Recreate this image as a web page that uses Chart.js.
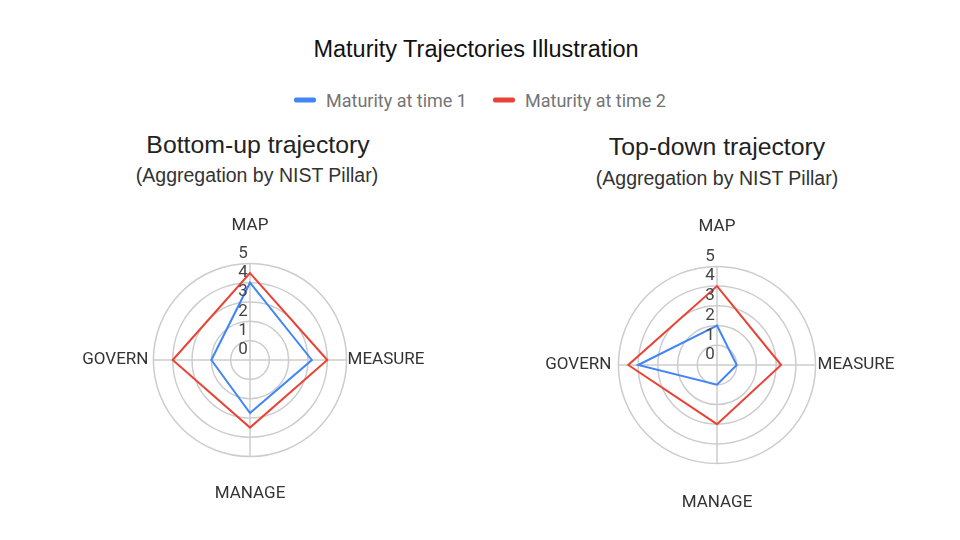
<!DOCTYPE html>
<html>
<head>
<meta charset="utf-8">
<title>Maturity Trajectories Illustration</title>
<script src="https://cdn.jsdelivr.net/npm/chart.js@4.4.1/dist/chart.umd.min.js"></script>
<style>
  html, body { margin: 0; padding: 0; background: #fff; }
  #page { position: relative; width: 960px; height: 540px; overflow: hidden; font-family: Roboto, sans-serif; }
  .txt { position: absolute; white-space: nowrap; line-height: 1; transform: translate(-50%, -50%); }
  .main-title { font-family: "Liberation Sans", Arial, sans-serif; font-size: 23.5px; color: #111; }
  .chart-title { font-family: "Liberation Sans", Arial, sans-serif; font-size: 24.8px; color: #222; }
  .chart-sub { font-family: "Liberation Sans", Arial, sans-serif; font-size: 19.5px; color: #333; }
  #legend { position: absolute; left: 480px; top: 100px; transform: translate(-50%, -50%); display: flex; align-items: center; gap: 26px; font-size: 18px; color: #757575; white-space: nowrap; }
  #legend .item { display: flex; align-items: center; gap: 10px; }
  #legend .swatch { width: 22px; height: 5px; border-radius: 2px; }
  .box { position: absolute; }
</style>
</head>
<body>
<div id="page">
  <div class="txt main-title" style="left:476px; top:50px;">Maturity Trajectories Illustration</div>
  <div id="legend"></div>

  <div class="txt chart-title" style="left:258px; top:145px;">Bottom-up trajectory</div>
  <div class="txt chart-sub" style="left:257px; top:176px;">(Aggregation by NIST Pillar)</div>
  <div class="txt chart-title" style="left:717px; top:147px;">Top-down trajectory</div>
  <div class="txt chart-sub" style="left:717px; top:179px;">(Aggregation by NIST Pillar)</div>

  <div class="box" style="left:0px; top:216px; width:500px; height:288px;"><canvas id="bottomUp"></canvas></div>
  <div class="box" style="left:477px; top:217px; width:480px; height:296px;"><canvas id="topDown"></canvas></div>
</div>

<script>
// data
const pillars = ['MAP', 'MEASURE', 'MANAGE', 'GOVERN'];
const seriesNames = ['Maturity at time 1', 'Maturity at time 2'];
const scaleMin = 0;
const scaleMax = 5;
const scaleStep = 1;

const bottomUpTime1 = [4.0, 3.2, 2.75, 2.0];
const bottomUpTime2 = [4.5, 4.0, 3.5, 4.0];
const topDownTime1 = [2.0, 1.0, 1.0, 4.0];
const topDownTime2 = [4.0, 3.25, 3.0, 4.5];

const BLUE = '#4285f4';
const RED = '#ea4335';
const GRID = '#cccccc';
const seriesColors = [BLUE, RED];

// html legend shared by both charts
const legendEl = document.getElementById('legend');
seriesNames.forEach((name, i) => {
  const item = document.createElement('div');
  item.className = 'item';
  const sw = document.createElement('span');
  sw.className = 'swatch';
  sw.style.background = seriesColors[i];
  const label = document.createElement('span');
  label.textContent = name;
  item.appendChild(sw);
  item.appendChild(label);
  legendEl.appendChild(item);
});

// tick numbers sit a little above/left of each ring, 0 included
const tickText = {
  id: 'tickText',
  afterDatasetsDraw(chart) {
    const s = chart.scales.r;
    const ctx = chart.ctx;
    ctx.save();
    ctx.font = '17px Roboto';
    ctx.fillStyle = '#444';
    ctx.textAlign = 'center';
    ctx.textBaseline = 'middle';
    s.ticks.forEach(t => {
      const d = s.getDistanceFromCenterForValue(t.value);
      ctx.fillText(t.label, s.xCenter - 7, s.yCenter - d - 10);
    });
    ctx.restore();
  }
};

function radarDataset(label, data, color) {
  return {
    label,
    data,
    borderColor: color,
    backgroundColor: 'transparent',
    borderWidth: 2,
    pointRadius: 0,
    pointHoverRadius: 0,
    fill: false,
  };
}

function makeRadar(id, time1, time2, vPad, leftPad, rightPad) {
  return new Chart(document.getElementById(id), {
    type: 'radar',
    data: {
      labels: pillars,
      datasets: [
        radarDataset(seriesNames[0], time1, BLUE),
        radarDataset(seriesNames[1], time2, RED),
      ],
    },
    plugins: [tickText],
    options: {
      responsive: true,
      maintainAspectRatio: false,
      animation: false,
      layout: { padding: 0 },
      plugins: {
        legend: { display: false },
        title: { display: false },
        tooltip: { enabled: false },
      },
      scales: {
        r: {
          min: scaleMin,
          max: scaleMax,
          ticks: { stepSize: scaleStep, display: false },
          grid: { circular: true, color: GRID, lineWidth: 1.5 },
          angleLines: { color: GRID, lineWidth: 1.5 },
          pointLabels: {
            color: '#333',
            font: { family: 'Roboto', size: 17 },
            padding: ctx => ctx.index === 3 ? leftPad : (ctx.index === 1 ? rightPad : vPad),
          },
        },
      },
    },
  });
}

makeRadar('bottomUp', bottomUpTime1, bottomUpTime2, 27, 5, 1);
makeRadar('topDown', topDownTime1, topDownTime2, 29, 7, 2);
</script>
</body>
</html>
